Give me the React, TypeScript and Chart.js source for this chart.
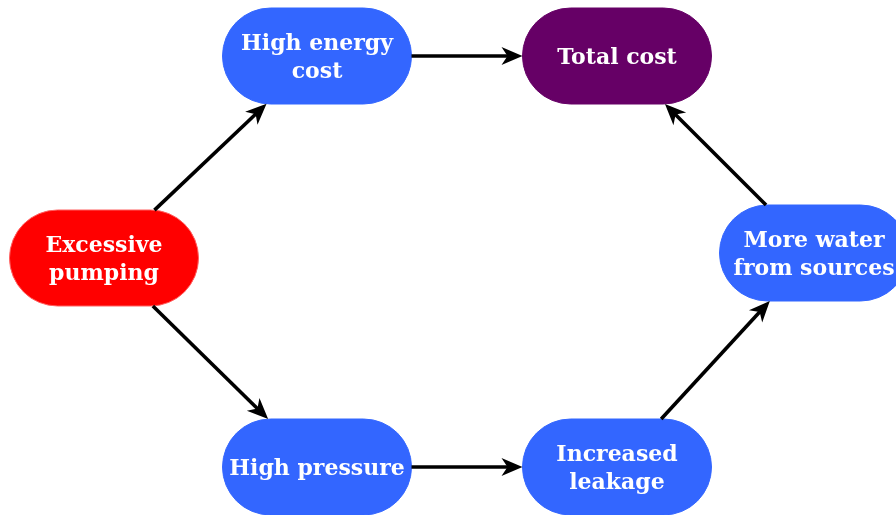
import React, { useEffect, useRef } from "react";
import { Chart, registerables } from "chart.js";

Chart.register(...registerables);

// Diagram data
const nodeLabels: string[][] = [
  ["Excessive", "pumping"],
  ["High energy", "cost"],
  ["Total cost"],
  ["More water", "from sources"],
  ["Increased", "leakage"],
  ["High pressure"],
];
const nodeX = [104, 317, 617, 814, 617, 317];
const nodeY = [258, 56, 56, 253, 467, 467];
const nodeKinds = ["start", "mid", "end", "mid", "mid", "mid"];
const edgeFrom = [0, 1, 0, 5, 4, 3];
const edgeTo = [1, 2, 5, 4, 3, 2];

// Styles
const FILL: Record<string, string> = { start: "#ff0000", mid: "#3366ff", end: "#660066" };
const STROKE: Record<string, string> = { start: "#ff6060", mid: "#3366ff", end: "#660066" };
const NODE_W = 189;
const NODE_H = 96;
const FONT = "bold 22px 'DejaVu Serif', serif";
const LINE_GAP = 28;

function boundary(cx: number, cy: number, ux: number, uy: number, hw: number, hh: number) {
  const r = hh;
  const flat = hw - r;
  if (Math.abs(uy) > 1e-9) {
    const t = hh / Math.abs(uy);
    const x = t * ux;
    if (Math.abs(x) <= flat) return { x: cx + x, y: cy + t * uy };
  }
  const ccx = Math.sign(ux) * flat;
  const b = -2 * ux * ccx;
  const c = ccx * ccx - r * r;
  const t = (-b + Math.sqrt(b * b - 4 * c)) / 2;
  return { x: cx + t * ux, y: cy + t * uy };
}

const diagramPlugin = {
  id: "diagram",
  afterDatasetsDraw(chart: any) {
    const ctx: CanvasRenderingContext2D = chart.ctx;
    const xs = chart.scales.x;
    const ys = chart.scales.y;
    const pts = nodeX.map((v, i) => ({ x: xs.getPixelForValue(v), y: ys.getPixelForValue(nodeY[i]) }));
    const hw = NODE_W / 2;
    const hh = NODE_H / 2;
    ctx.save();
    pts.forEach((p, i) => {
      ctx.beginPath();
      ctx.moveTo(p.x - hw + hh, p.y - hh);
      ctx.lineTo(p.x + hw - hh, p.y - hh);
      ctx.arc(p.x + hw - hh, p.y, hh, -Math.PI / 2, Math.PI / 2);
      ctx.lineTo(p.x - hw + hh, p.y + hh);
      ctx.arc(p.x - hw + hh, p.y, hh, Math.PI / 2, (3 * Math.PI) / 2);
      ctx.closePath();
      ctx.fillStyle = FILL[nodeKinds[i]];
      ctx.fill();
      ctx.lineWidth = 1;
      ctx.strokeStyle = STROKE[nodeKinds[i]];
      ctx.stroke();
      ctx.fillStyle = "#ffffff";
      ctx.font = FONT;
      ctx.textAlign = "center";
      ctx.textBaseline = "middle";
      const lines = nodeLabels[i];
      const start = p.y - ((lines.length - 1) * LINE_GAP) / 2;
      lines.forEach((t, k) => ctx.fillText(t, p.x, start + k * LINE_GAP + 2));
    });
    edgeFrom.forEach((f, k) => {
      const a = pts[f];
      const b = pts[edgeTo[k]];
      const dx = b.x - a.x;
      const dy = b.y - a.y;
      const len = Math.hypot(dx, dy);
      const ux = dx / len;
      const uy = dy / len;
      const s = boundary(a.x, a.y, ux, uy, hw, hh);
      const e = boundary(b.x, b.y, -ux, -uy, hw, hh);
      const L = 21;
      const W = 9;
      const inset = 6;
      const nx = -uy;
      const ny = ux;
      const innerX = e.x - (L - inset) * ux;
      const innerY = e.y - (L - inset) * uy;
      ctx.beginPath();
      ctx.moveTo(s.x, s.y);
      ctx.lineTo(innerX + ux * 2, innerY + uy * 2);
      ctx.lineWidth = 3.6;
      ctx.strokeStyle = "#000000";
      ctx.lineCap = "butt";
      ctx.stroke();
      ctx.beginPath();
      ctx.moveTo(e.x, e.y);
      ctx.lineTo(e.x - L * ux + W * nx, e.y - L * uy + W * ny);
      ctx.lineTo(innerX, innerY);
      ctx.lineTo(e.x - L * ux - W * nx, e.y - L * uy - W * ny);
      ctx.closePath();
      ctx.fillStyle = "#000000";
      ctx.fill();
    });
    ctx.restore();
  },
};

export default function App() {
  const ref = useRef<HTMLCanvasElement | null>(null);
  useEffect(() => {
    if (!ref.current) return;
    const chart = new Chart(ref.current, {
      type: "scatter",
      data: {
        datasets: [
          {
            data: nodeX.map((x, i) => ({ x, y: nodeY[i] })),
            pointRadius: 0,
            pointHoverRadius: 0,
          },
        ],
      },
      options: {
        animation: false,
        responsive: true,
        maintainAspectRatio: false,
        events: [],
        layout: { padding: 0 },
        plugins: { legend: { display: false }, tooltip: { enabled: false } },
        scales: {
          x: { type: "linear", min: 0, max: 896, display: false },
          y: { type: "linear", min: 0, max: 515, reverse: true, display: false },
        },
      },
      plugins: [diagramPlugin],
    });
    return () => chart.destroy();
  }, []);
  return (
    <div style={{ position: "absolute", left: 0, top: 0, width: 896, height: 515, background: "#ffffff" }}>
      <canvas ref={ref} />
    </div>
  );
}
